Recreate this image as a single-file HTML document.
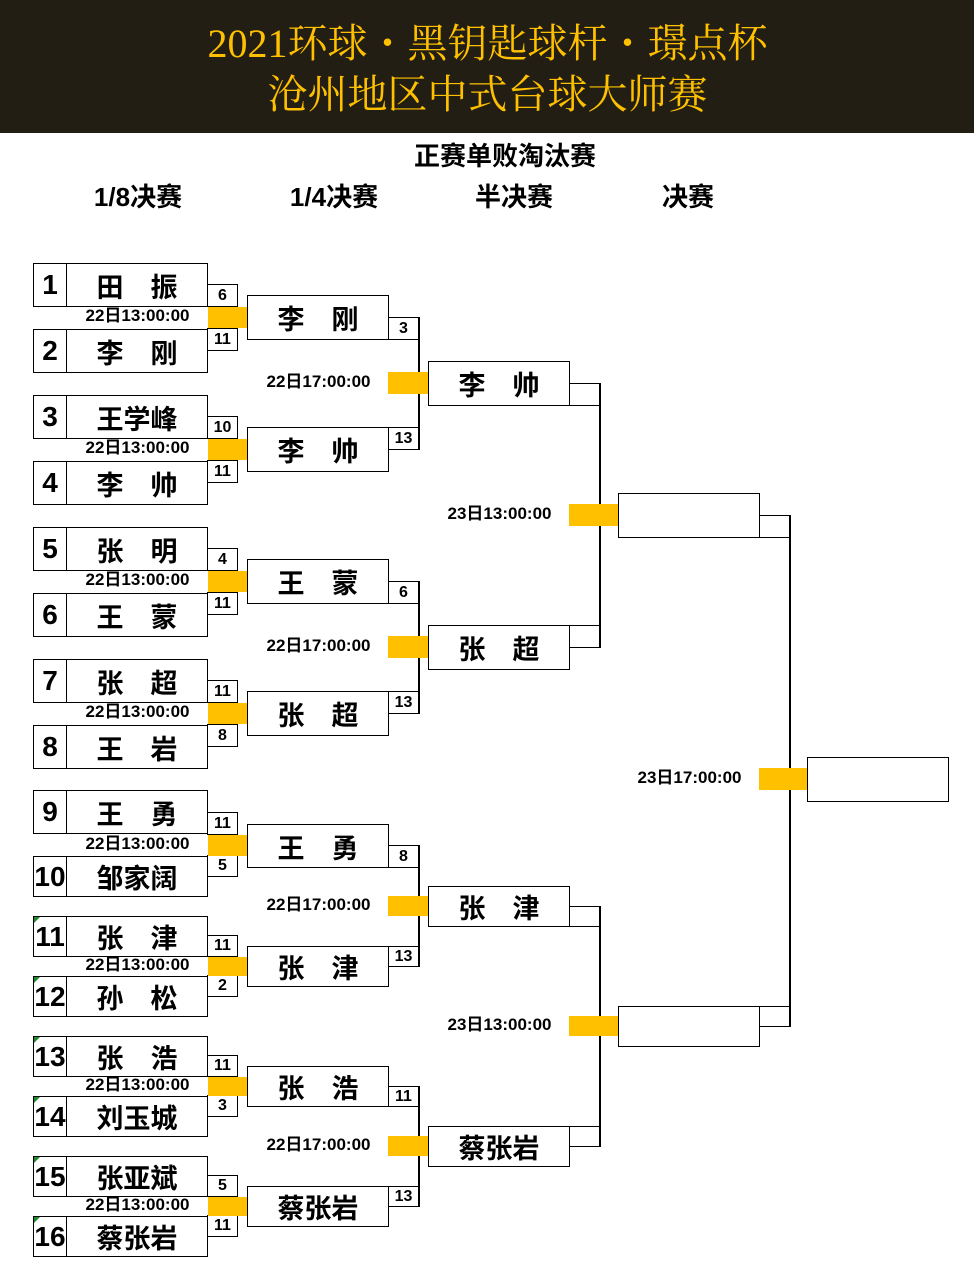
<!DOCTYPE html>
<html><head><meta charset="utf-8"><style>
*{margin:0;padding:0;box-sizing:border-box}
body{width:975px;height:1277px;position:relative;background:#fff;overflow:hidden;font-family:"Liberation Sans","Noto Sans CJK SC",sans-serif;font-weight:bold;color:#000}
.hd{position:absolute;left:0;top:0;width:974px;height:133px;background:#221e13}
.ht{position:absolute;left:0;width:975px;text-align:center;color:#ffc000;font-family:"Liberation Serif","Noto Serif CJK SC",serif;font-weight:normal;font-size:40px;line-height:48px}
.t{position:absolute;text-align:center;white-space:nowrap}
.b{position:absolute;border:1.5px solid #000;background:#fff}
.y{position:absolute;background:#ffc000}
.v{position:absolute;width:1.5px;background:#000}
.p{position:absolute;left:33px;width:175px;border:1.5px solid #000;background:#fff}
.p .n{position:absolute;left:0;top:0;bottom:0;width:33px;border-right:1.5px solid #000;font-size:28px;text-align:center;display:flex;align-items:center;justify-content:center}
.p .nm{position:absolute;left:33px;right:0;top:0;bottom:0;font-size:27px;display:flex;align-items:center;justify-content:center}
.g .n::before{content:"";position:absolute;left:0;top:0;border-top:6px solid #1a8a2a;border-right:6px solid transparent}
.s{position:absolute;border:1.5px solid #000;background:#fff;font-size:16px;text-align:center;display:flex;align-items:center;justify-content:center}
.q{font-size:27px;display:flex;align-items:center;justify-content:center}
.tm{position:absolute;font-size:17px;white-space:nowrap;text-align:center;line-height:20px}
</style></head><body>
<div class="hd"></div>
<div class="ht" style="top:20px">2021环球・黑钥匙球杆・璟点杯</div>
<div class="ht" style="top:71px">沧州地区中式台球大师赛</div>
<div class="t" style="left:385px;width:240px;top:136px;font-size:26px">正赛单败淘汰赛</div>
<div class="t" style="left:58px;width:160px;top:177px;font-size:26px">1/8决赛</div>
<div class="t" style="left:254px;width:160px;top:177px;font-size:26px">1/4决赛</div>
<div class="t" style="left:434px;width:160px;top:177px;font-size:26px">半决赛</div>
<div class="t" style="left:608px;width:160px;top:177px;font-size:26px">决赛</div>

<div class="p" style="top:263px;height:44px"><div class="n">1</div><div class="nm">田　振</div></div>
<div class="p" style="top:329px;height:44px"><div class="n">2</div><div class="nm">李　刚</div></div>
<div class="p" style="top:395px;height:44px"><div class="n">3</div><div class="nm">王学峰</div></div>
<div class="p" style="top:461px;height:44px"><div class="n">4</div><div class="nm">李　帅</div></div>
<div class="p" style="top:527px;height:44px"><div class="n">5</div><div class="nm">张　明</div></div>
<div class="p" style="top:593px;height:44px"><div class="n">6</div><div class="nm">王　蒙</div></div>
<div class="p" style="top:659px;height:44px"><div class="n">7</div><div class="nm">张　超</div></div>
<div class="p" style="top:725px;height:44px"><div class="n">8</div><div class="nm">王　岩</div></div>
<div class="p" style="top:790px;height:44px"><div class="n">9</div><div class="nm">王　勇</div></div>
<div class="p" style="top:856px;height:41px"><div class="n">10</div><div class="nm">邹家阔</div></div>
<div class="p g" style="top:916px;height:41px"><div class="n">11</div><div class="nm">张　津</div></div>
<div class="p g" style="top:976px;height:41px"><div class="n">12</div><div class="nm">孙　松</div></div>
<div class="p g" style="top:1036px;height:41px"><div class="n">13</div><div class="nm">张　浩</div></div>
<div class="p g" style="top:1096px;height:41px"><div class="n">14</div><div class="nm">刘玉城</div></div>
<div class="p g" style="top:1156px;height:41px"><div class="n">15</div><div class="nm">张亚斌</div></div>
<div class="p g" style="top:1216px;height:41px"><div class="n">16</div><div class="nm">蔡张岩</div></div>

<div class="s" style="left:207px;width:31px;top:284px;height:23px">6</div>
<div class="s" style="left:207px;width:31px;top:328px;height:23px">11</div>
<div class="s" style="left:207px;width:31px;top:416px;height:23px">10</div>
<div class="s" style="left:207px;width:31px;top:460px;height:23px">11</div>
<div class="s" style="left:207px;width:31px;top:548px;height:23px">4</div>
<div class="s" style="left:207px;width:31px;top:592px;height:23px">11</div>
<div class="s" style="left:207px;width:31px;top:680px;height:23px">11</div>
<div class="s" style="left:207px;width:31px;top:724px;height:23px">8</div>
<div class="s" style="left:207px;width:31px;top:812px;height:23px">11</div>
<div class="s" style="left:207px;width:31px;top:855px;height:22px">5</div>
<div class="s" style="left:207px;width:31px;top:935px;height:22px">11</div>
<div class="s" style="left:207px;width:31px;top:975px;height:22px">2</div>
<div class="s" style="left:207px;width:31px;top:1055px;height:22px">11</div>
<div class="s" style="left:207px;width:31px;top:1095px;height:22px">3</div>
<div class="s" style="left:207px;width:31px;top:1175px;height:22px">5</div>
<div class="s" style="left:207px;width:31px;top:1215px;height:22px">11</div>

<div class="y" style="left:208px;width:39px;top:307px;height:21px"></div>
<div class="y" style="left:208px;width:39px;top:439px;height:21px"></div>
<div class="y" style="left:208px;width:39px;top:571px;height:21px"></div>
<div class="y" style="left:208px;width:39px;top:703px;height:21px"></div>
<div class="y" style="left:208px;width:39px;top:835px;height:21px"></div>
<div class="y" style="left:208px;width:39px;top:957px;height:19px"></div>
<div class="y" style="left:208px;width:39px;top:1077px;height:19px"></div>
<div class="y" style="left:208px;width:39px;top:1197px;height:19px"></div>
<div class="tm" style="left:67px;width:141px;top:306px">22日13:00:00</div>
<div class="tm" style="left:67px;width:141px;top:438px">22日13:00:00</div>
<div class="tm" style="left:67px;width:141px;top:570px">22日13:00:00</div>
<div class="tm" style="left:67px;width:141px;top:702px">22日13:00:00</div>
<div class="tm" style="left:67px;width:141px;top:834px">22日13:00:00</div>
<div class="tm" style="left:67px;width:141px;top:955px">22日13:00:00</div>
<div class="tm" style="left:67px;width:141px;top:1075px">22日13:00:00</div>
<div class="tm" style="left:67px;width:141px;top:1195px">22日13:00:00</div>

<div class="b q" style="left:247px;width:142px;top:295px;height:45px">李　刚</div>
<div class="b q" style="left:247px;width:142px;top:427px;height:45px">李　帅</div>
<div class="b q" style="left:247px;width:142px;top:559px;height:45px">王　蒙</div>
<div class="b q" style="left:247px;width:142px;top:691px;height:45px">张　超</div>
<div class="b q" style="left:247px;width:142px;top:824px;height:44px">王　勇</div>
<div class="b q" style="left:247px;width:142px;top:946px;height:41px">张　津</div>
<div class="b q" style="left:247px;width:142px;top:1066px;height:41px">张　浩</div>
<div class="b q" style="left:247px;width:142px;top:1186px;height:41px">蔡张岩</div>

<div class="v" style="left:418px;top:317px;height:133px"></div>
<div class="v" style="left:418px;top:581px;height:133px"></div>
<div class="v" style="left:418px;top:845px;height:122px"></div>
<div class="v" style="left:418px;top:1086px;height:121px"></div>
<div class="s" style="left:388px;width:31px;top:317px;height:23px">3</div>
<div class="s" style="left:388px;width:31px;top:427px;height:23px">13</div>
<div class="s" style="left:388px;width:31px;top:581px;height:23px">6</div>
<div class="s" style="left:388px;width:31px;top:691px;height:23px">13</div>
<div class="s" style="left:388px;width:31px;top:845px;height:23px">8</div>
<div class="s" style="left:388px;width:31px;top:946px;height:21px">13</div>
<div class="s" style="left:388px;width:31px;top:1086px;height:21px">11</div>
<div class="s" style="left:388px;width:31px;top:1186px;height:21px">13</div>

<div class="y" style="left:388px;width:40px;top:372px;height:22px"></div>
<div class="y" style="left:388px;width:40px;top:636px;height:22px"></div>
<div class="y" style="left:388px;width:40px;top:896px;height:20px"></div>
<div class="y" style="left:388px;width:40px;top:1136px;height:20px"></div>
<div class="tm" style="left:248px;width:141px;top:372px">22日17:00:00</div>
<div class="tm" style="left:248px;width:141px;top:636px">22日17:00:00</div>
<div class="tm" style="left:248px;width:141px;top:895px">22日17:00:00</div>
<div class="tm" style="left:248px;width:141px;top:1135px">22日17:00:00</div>

<div class="b q" style="left:428px;width:142px;top:361px;height:45px">李　帅</div>
<div class="b q" style="left:428px;width:142px;top:625px;height:45px">张　超</div>
<div class="b q" style="left:428px;width:142px;top:886px;height:41px">张　津</div>
<div class="b q" style="left:428px;width:142px;top:1126px;height:41px">蔡张岩</div>
<div class="v" style="left:599px;top:383px;height:265px"></div>
<div class="v" style="left:599px;top:906px;height:241px"></div>
<div class="s" style="left:569px;width:31px;top:383px;height:23px"></div>
<div class="s" style="left:569px;width:31px;top:625px;height:23px"></div>
<div class="s" style="left:569px;width:31px;top:906px;height:21px"></div>
<div class="s" style="left:569px;width:31px;top:1126px;height:21px"></div>
<div class="y" style="left:569px;width:49px;top:504px;height:22px"></div>
<div class="y" style="left:569px;width:49px;top:1016px;height:20px"></div>
<div class="tm" style="left:429px;width:141px;top:504px">23日13:00:00</div>
<div class="tm" style="left:429px;width:141px;top:1015px">23日13:00:00</div>

<div class="b" style="left:618px;width:142px;top:493px;height:45px"></div>
<div class="b" style="left:618px;width:142px;top:1006px;height:41px"></div>
<div class="v" style="left:789px;top:515px;height:512px"></div>
<div class="s" style="left:759px;width:31px;top:515px;height:23px"></div>
<div class="s" style="left:759px;width:31px;top:1006px;height:21px"></div>
<div class="y" style="left:759px;width:48px;top:768px;height:22px"></div>
<div class="tm" style="left:619px;width:141px;top:768px">23日17:00:00</div>
<div class="b" style="left:807px;width:142px;top:757px;height:45px"></div>
</body></html>
